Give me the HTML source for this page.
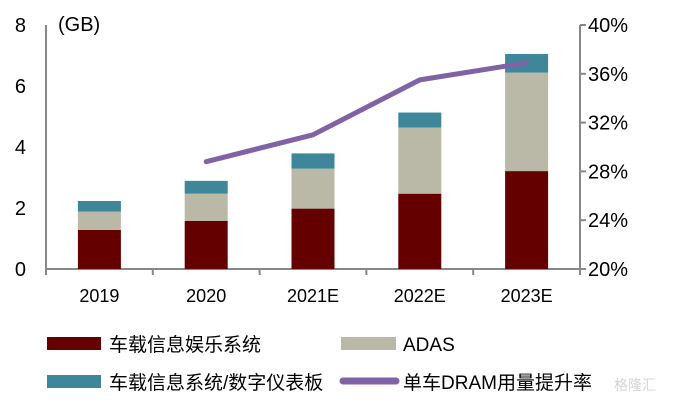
<!DOCTYPE html>
<html><head><meta charset="utf-8"><style>
body{margin:0;background:#fff;}
svg text{font-family:"Liberation Sans","Noto Sans CJK SC",sans-serif;}
</style></head><body>
<svg width="678" height="401" viewBox="0 0 678 401">
<g id="axes"></g><g id="bars"></g><g id="line"></g>
<g>
<rect x="47" y="337" width="54" height="13" fill="#640000"/>
<text x="109" y="351" font-size="19" fill="#000">车载信息娱乐系统</text>
<rect x="341" y="337" width="55" height="13" fill="#bab8a6"/>
<text x="403" y="351" font-size="19" fill="#000">ADAS</text>
<rect x="47" y="375" width="54" height="13" fill="#3e879a"/>
<text x="109" y="389" font-size="19" fill="#000">车载信息系统/数字仪表板</text>
<line x1="343" y1="381" x2="396" y2="381" stroke="#8062a6" stroke-width="7" stroke-linecap="round"/>
<text x="403" y="389" font-size="19" fill="#000">单车DRAM用量提升率</text>
</g>
<text x="614" y="390" font-size="14" fill="#d4d4d4">格隆汇</text>
</svg>
<script>
const categories=["2019","2020","2021E","2022E","2023E"];
const infotainment=[1.28,1.58,1.98,2.47,3.21];
const adas=[0.60,0.89,1.31,2.17,3.23];
const cluster=[0.35,0.42,0.50,0.49,0.61];
const rateCats=["2020","2021E","2022E","2023E"];
const rate=[28.8,31.0,35.5,36.9];
const leftTicks=[0,2,4,6,8];
const rightTicks=[20,24,28,32,36,40];
const NS="http://www.w3.org/2000/svg";
const X0=46,X1=580,Y0=269,Y1=25;
const band=(X1-X0)/categories.length;
const xC=i=>X0+band*(i+0.5);
const yL=v=>Y0-(v/8)*(Y0-Y1);
const yR=v=>Y0-((v-20)/20)*(Y0-Y1);
function mk(tag,attrs,parent){const e=document.createElementNS(NS,tag);for(const k in attrs)e.setAttribute(k,attrs[k]);parent.appendChild(e);return e;}
const ax=document.getElementById('axes');
let e;
e=mk('line',{x1:X0,y1:Y1,x2:X0,y2:Y0,stroke:'#888','stroke-width':2},ax);


e=mk('line',{x1:X1,y1:Y1,x2:X1,y2:Y0,stroke:'#888','stroke-width':2},ax);


e=mk('line',{x1:X0,y1:Y0,x2:X1+2,y2:Y0,stroke:'#888','stroke-width':2},ax);


for(let i=0;i<=categories.length;i++){e=mk('line',{x1:X0+band*i,y1:Y0,x2:X0+band*i,y2:Y0+6,stroke:'#888','stroke-width':2},ax);

}
leftTicks.forEach(v=>{e=mk('text',{x:26,y:yL(v)+7,'font-size':20,'text-anchor':'end',fill:'#000'},ax);e.textContent=v;

});
rightTicks.forEach(v=>{e=mk('line',{x1:X1,y1:yR(v),x2:X1+6,y2:yR(v),stroke:'#888','stroke-width':2},ax);


e=mk('text',{x:588,y:yR(v)+7,'font-size':20,fill:'#000'},ax);e.textContent=v+'%';

});
e=mk('text',{x:58,y:31,'font-size':20,fill:'#000'},ax);e.textContent='(GB)';


categories.forEach((c,i)=>{e=mk('text',{x:xC(i),y:302,'font-size':18,'text-anchor':'middle',fill:'#000'},ax);e.textContent=c;

});
const bars=document.getElementById('bars');
const W=43;
categories.forEach((c,i)=>{let base=0;
[[infotainment,'#640000','bar-infotainment'],[adas,'#bab8a6','bar-adas'],[cluster,'#3e879a','bar-cluster']].forEach(([arr,col,nm])=>{
const top=base+arr[i];
e=mk('rect',{x:xC(i)-W/2,y:yL(top),width:W,height:yL(base)-yL(top),fill:col},bars);


base=top;});});
const pts=rateCats.map((c,j)=>[xC(categories.indexOf(c)),yR(rate[j])]);
e=mk('polyline',{points:pts.map(p=>p.join(',')).join(' '),fill:'none',stroke:'#8062a6','stroke-width':5,'stroke-linecap':'round','stroke-linejoin':'round'},document.getElementById('line'));


</script>
</body></html>
